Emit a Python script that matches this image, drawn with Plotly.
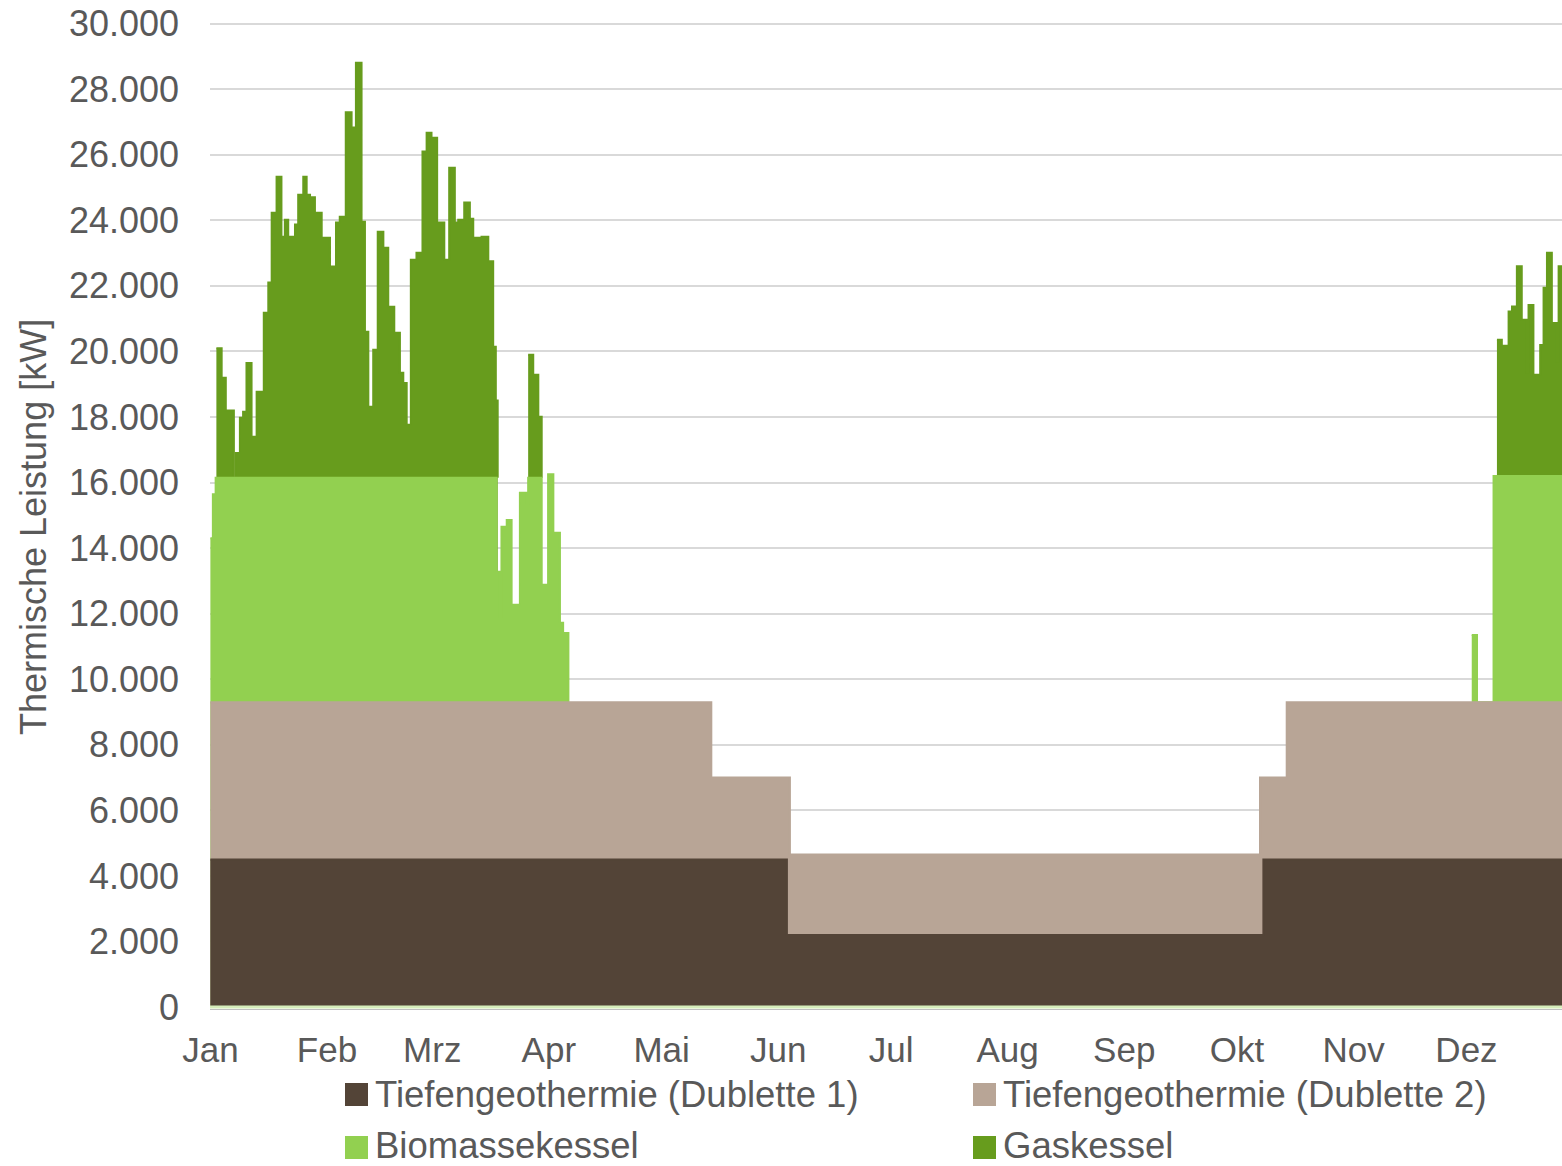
import plotly.graph_objects as go

# x-Achse: Tag im Jahr (0 = 1. Januar)
month_days = [0, 31, 59, 90, 120, 151, 181, 212, 243, 273, 304, 334]
month_labels = ["Jan", "Feb", "Mrz", "Apr", "Mai", "Jun", "Jul", "Aug", "Sep", "Okt", "Nov", "Dez"]

# Oberkanten der gestapelten Flaechen in kW (Stufenwerte, gelten ab dem jeweiligen Tag)
geo1_days = [0, 153.3, 280.0, 359.4]
geo1_kw = [4500, 2200, 4500, 4500]

geo2_days = [0, 133.2, 154.1, 279.1, 286.2, 359.4]
geo2_kw = [9300, 7000, 4650, 7000, 9300, 9300]

bio_days_winter = [0, 0.66, 1.4, 76.1, 77.0, 77.4, 78.8, 80.1, 82.3, 84.1, 84.5,
                   88.1, 89.8, 91.2, 92.95, 93.8, 95.2]
bio_kw_winter = [14300, 15640, 16150, 13280, 11900, 14650, 14860, 12270, 15690, 15370, 16150,
                 12880, 16250, 14470, 11720, 11410, 9300]

bio_days_dez = [335.4, 336.8, 341.2, 359.4]
bio_kw_dez = [11350, 9300, 16200, 16200]

gas_days_winter = [1.6, 3.0, 4.1, 6.25, 6.8, 7.85, 8.7, 9.6, 10.95, 12.3, 14.2, 15.4, 16.3,
                   17.6, 18.9, 19.8, 20.7, 22.5, 23.35, 24.7, 25.6, 26.5, 27.8, 29.6, 31.8,
                   33.4, 34.4, 36.0, 37.55, 38.7, 40.2, 41.1, 42.0, 43.3, 44.5, 46.0, 47.3,
                   48.9, 50.4, 51.3, 52.2, 53.3, 54.8, 56.4, 57.5, 58.8, 60.3, 62.2, 63.5,
                   65.0, 65.9, 67.5, 69.0, 69.9, 72.1, 73.9, 75.2, 75.9, 76.4]
gas_kw_winter = [20100, 19200, 18200, 16150, 16900, 17980, 18160, 19650, 17400, 18770, 21180,
                 22100, 24230, 25330, 23500, 24020, 23500, 23870, 24780, 25330, 24780, 24700,
                 24230, 23470, 22590, 23930, 24110, 27300, 26830, 28810, 23960, 20600, 18310,
                 20050, 23650, 23160, 21360, 20570, 19350, 19040, 17760, 22800, 23010, 26100,
                 26670, 26520, 23930, 22800, 25600, 23930, 24020, 24540, 24050, 23470, 23500,
                 22750, 20140, 18500, 16150]

gas_days_apr = [84.5, 85.85, 87.2, 88.1]
gas_kw_apr = [19900, 19290, 18010, 16150]

gas_days_dez = [342.1, 343.4, 345.2, 346.1, 347.4, 348.7, 350.05, 350.5, 351.8, 352.2,
                353.6, 354.5, 355.4, 356.7, 358.0, 358.5, 359.4]
gas_kw_dez = [20360, 20170, 21220, 21370, 22600, 20970, 19350, 21420, 19250, 19290,
              20200, 21940, 23010, 20870, 19690, 22600, 22600]

names = ["Tiefengeothermie (Dublette 1)", "Tiefengeothermie (Dublette 2)",
         "Biomassekessel", "Gaskessel"]
colors = ["#534437", "#b8a596", "#92d050", "#679c1d"]

# von oben nach unten zeichnen, jede Flaeche deckt die darunterliegende ab
layers = [
    ([(gas_days_winter, gas_kw_winter), (gas_days_apr, gas_kw_apr),
      (gas_days_dez, gas_kw_dez)], colors[3], names[3]),
    ([(bio_days_winter, bio_kw_winter), (bio_days_dez, bio_kw_dez)], colors[2], names[2]),
    ([(geo2_days, geo2_kw)], colors[1], names[1]),
    ([(geo1_days, geo1_kw)], colors[0], names[0]),
]

fig = go.Figure()
for segments, col, nm in layers:
    for d, v in segments:
        fig.add_trace(go.Scatter(
            x=d, y=v, name=nm, mode="lines", fill="tozeroy", fillcolor=col,
            line=dict(color=col, width=2, shape="hv"),
            showlegend=False, hoverinfo="skip"))

W, H = 1562, 1166
L, R, T, B = 210, 0, 22, 157
pw, ph = W - L - R, H - T - B
font = "Liberation Sans, Arial, sans-serif"
grey = "#595959"


def px(sx):
    return (sx - L) / pw


def py(sy):
    return (H - B - sy) / ph


# Legende (zwei Spalten, zwei Zeilen)
legend_pos = [(345, 1095), (973, 1095), (345, 1148), (973, 1148)]
shapes = []
annotations = []
for (lx, ly), col, nm in zip(legend_pos, colors, names):
    shapes.append(dict(type="rect", xref="paper", yref="paper",
                       x0=px(lx), x1=px(lx + 23), y0=py(ly + 11), y1=py(ly - 12),
                       fillcolor=col, line=dict(width=0)))
    annotations.append(dict(text=nm, xref="paper", yref="paper", x=px(lx + 28),
                            y=py(min(ly - 1, 1145)),
                            xanchor="left", yanchor="middle", showarrow=False,
                            font=dict(family=font, size=36.5, color=grey)))

annotations.append(dict(text="Thermische Leistung [kW]", xref="paper", yref="paper",
                        x=px(33), y=py(527), textangle=-90, showarrow=False,
                        xanchor="center", yanchor="middle",
                        font=dict(family=font, size=36, color=grey)))

# hellgruene Basislinie unter der Flaeche
shapes.append(dict(type="line", xref="paper", yref="y", x0=0, x1=1, y0=0, y1=0,
                   line=dict(color="#d6edbb", width=3), layer="above"))

fig.update_layout(
    width=W, height=H,
    margin=dict(l=L, r=R, t=T, b=B),
    paper_bgcolor="white", plot_bgcolor="white",
    separators=",.",
    shapes=shapes, annotations=annotations,
    font=dict(family=font, color=grey),
    xaxis=dict(range=[-0.1, 359.4], tickvals=month_days, ticktext=month_labels,
               showgrid=False, zeroline=False, showline=True, linecolor="#bfbfbf",
               linewidth=1, ticks="", ticklabelstandoff=10,
               tickfont=dict(family=font, size=35, color=grey)),
    yaxis=dict(range=[-60, 30050], tickvals=list(range(0, 30001, 2000)),
               tickformat=",.0f", showgrid=True, gridcolor="#d9d9d9", gridwidth=2,
               zeroline=False, showline=False, ticks="", ticklabelstandoff=30,
               ticklabeloverflow="allow",
               tickfont=dict(family=font, size=36, color=grey)),
)

# Seitenrand des Browsers entfernen, damit die Figur bei (0, 0) beginnt
fig.write_html("out.html", config={"displayModeBar": False},
               post_script="document.body.style.margin='0';"
                           "document.body.style.overflow='hidden';")
